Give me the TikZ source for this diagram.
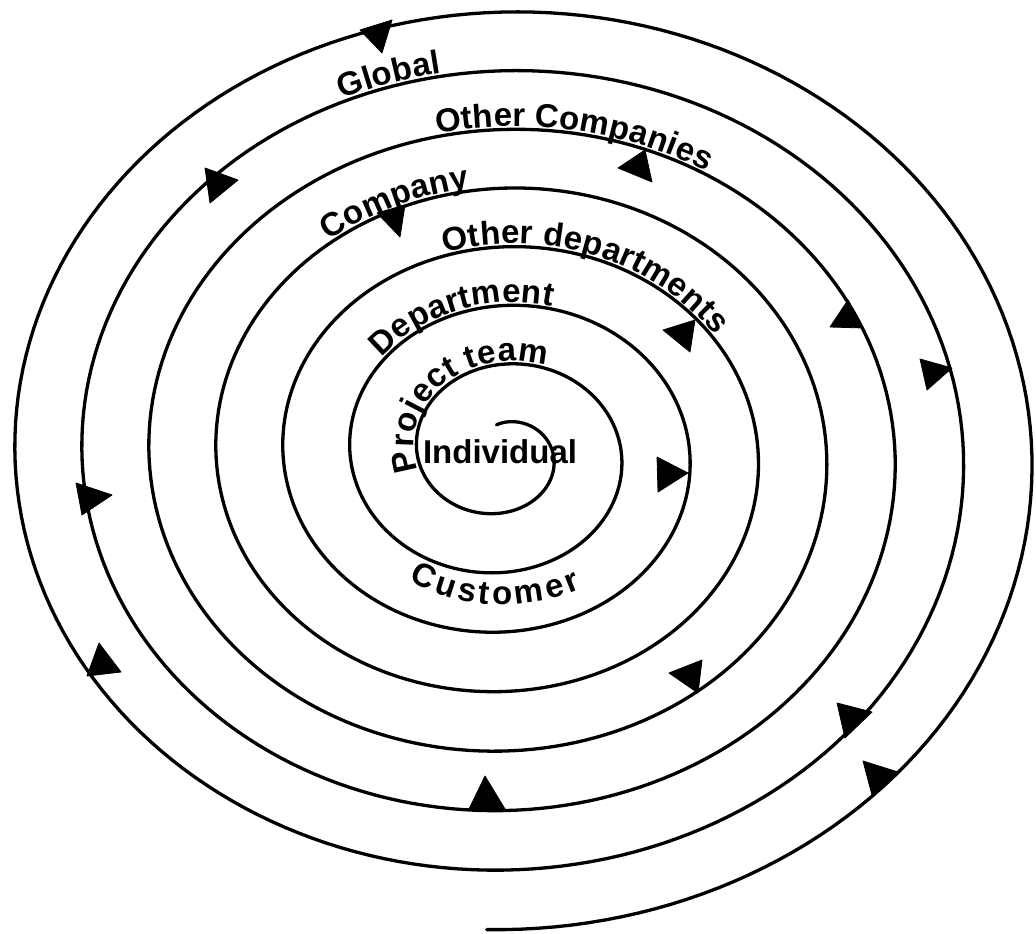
\documentclass[tikz,border=0pt]{standalone}
\usepackage{fontspec}
\setmainfont{Liberation Sans}
\usetikzlibrary{decorations.text}
\newcommand\lblfont{\fontsize{33}{37}\selectfont\bfseries}
\begin{document}
\begin{tikzpicture}[x=1pt,y=-1pt,
  declare function={
    sx(\q)=501.6+0.175*\q+(34.3+16.93*\q)*sin(90*\q);
    sy(\q)=453.1+0.1*\q-(30.1+14.78*\q)*cos(90*\q);
    sxr(\t,\r)=501.6+0.175*\t+(34.3+16.93*\r)*sin(90*\t);
    syr(\t,\r)=453.1+0.1*\t-(30.1+14.78*\r)*cos(90*\t);
  },
  spiral/.style={line width=3.3pt, black, line join=round, line cap=round},
  tri/.style={fill=black, draw=black, line width=0.8pt, line join=round},
]
\fill[white] (0,0) rectangle (1036,934);
\useasboundingbox (0,0) rectangle (1036,934);

% the spiral, winding outward clockwise
\draw[spiral] plot[domain=-0.1:30.03, samples=1500] ({sx(\x)},{sy(\x)});

% labels set along the turns
\path[decorate, decoration={text along path, text align=center, raise=3pt,
  text={|\lblfont|Global}}]
  plot[domain=23.5:24.15, samples=80] ({sx(\x)},{sy(\x)});
\path[decorate, decoration={text along path, text align=center, raise=3pt,
  text={|\lblfont|Other Companies}}]
  plot[domain=19.58:20.66, samples=100] ({sx(\x)},{sy(\x)});
\path[decorate, decoration={text along path, text align=center, raise=3pt,
  text={|\lblfont|Company}}]
  plot[domain=15.3:16.2, samples=80] ({sx(\x)},{sy(\x)});
\path[decorate, decoration={text along path, text align=center, raise=3pt,
  text={|\lblfont|Other departments}}]
  plot[domain=11.58:12.9, samples=100] ({sx(\x)},{sy(\x)});
\path[decorate, decoration={text along path, text align=center, raise=3pt,
  text={|\lblfont|Department}}]
  plot[domain=7.08:8.5, samples=100] ({sx(\x)},{sy(\x)});
\path[decorate, decoration={text along path, text align=center, raise=3pt,
  text={|\lblfont|Project team}}]
  plot[domain=2.78:4.32, samples=100] ({sx(\x)},{sy(\x)});
% baseline of the bottom label runs inside the turn, left to right
\path[decorate, decoration={text along path, text align={fit to path},
  text={|\lblfont|Customer}}]
  plot[domain=0:1, samples=100] ({sxr(10.37-0.67*\x,8.15)},{syr(10.37-0.67*\x,8.15)});

\node[font=\lblfont, anchor=base, inner sep=0pt] (individual) at (500,463) {Individual};

% arrowheads on the turns
\fill[tri] (360,30) -- (392,20) -- (382,53) -- cycle;
\fill[tri] (618,168) -- (645,150) -- (652,182) -- cycle;
\fill[tri] (205,168) -- (238,180) -- (210,203) -- cycle;
\fill[tri] (377,213) -- (405,205) -- (400,237) -- cycle;
\fill[tri] (663,330) -- (695,320) -- (690,352) -- cycle;
\fill[tri] (830,327) -- (848,300) -- (863,328) -- cycle;
\fill[tri] (920,359) -- (952,368) -- (927,390) -- cycle;
\fill[tri] (76,483) -- (112,495) -- (82,515) -- cycle;
\fill[tri] (657,457) -- (688,473) -- (658,492) -- cycle;
\fill[tri] (99,643) -- (121,672) -- (87,676) -- cycle;
\fill[tri] (669,673) -- (702,660) -- (698,693) -- cycle;
\fill[tri] (837,703) -- (872,712) -- (845,738) -- cycle;
\fill[tri] (863,761) -- (898,772) -- (872,795) -- cycle;
\fill[tri] (469,809) -- (485,776) -- (505,809) -- cycle;
\end{tikzpicture}
\end{document}
